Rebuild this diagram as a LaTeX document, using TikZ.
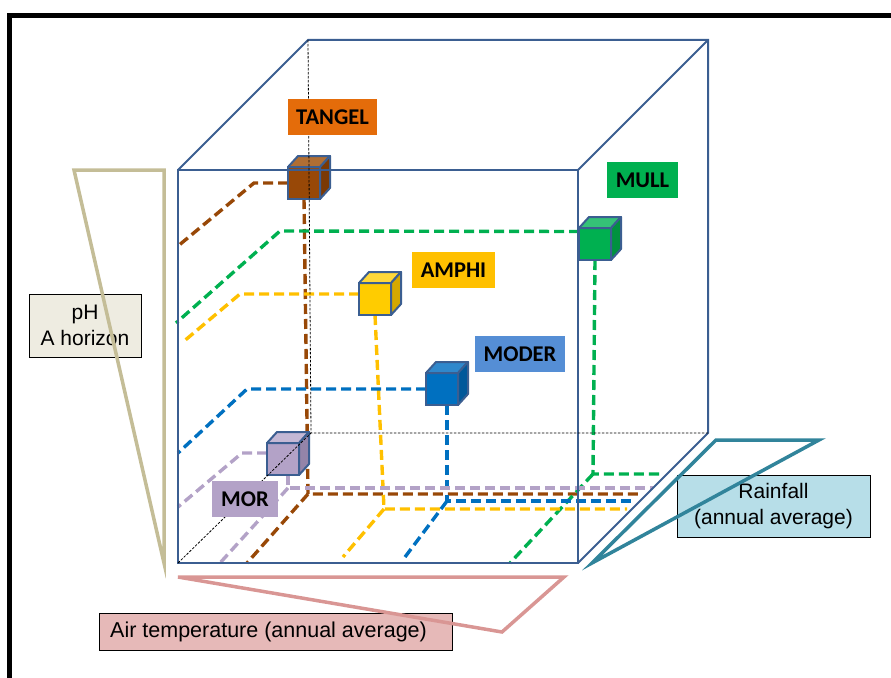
\documentclass[tikz,border=0pt]{standalone}
\usepackage{fontspec}
\setmainfont{Liberation Sans}
\newfontfamily\labfont{Carlito}
\pgfdeclarelayer{bg}
\pgfsetlayers{bg,main}
\definecolor{cubeblue}{HTML}{3B5E91}
\definecolor{brownC}{HTML}{984807}
\definecolor{brownTop}{HTML}{B06E33}
\definecolor{brownSide}{HTML}{7A3905}
\definecolor{orangeL}{HTML}{E46C0A}
\definecolor{greenC}{HTML}{00B050}
\definecolor{greenTop}{HTML}{35C277}
\definecolor{greenSide}{HTML}{00923F}
\definecolor{yellowC}{HTML}{FFC000}
\definecolor{yellowF}{HTML}{FFCC00}
\definecolor{yellowTop}{HTML}{FFD83A}
\definecolor{yellowSide}{HTML}{D4A800}
\definecolor{blueC}{HTML}{0070C0}
\definecolor{blueTop}{HTML}{2F88CC}
\definecolor{blueSide}{HTML}{00589A}
\definecolor{blueL}{HTML}{558ED5}
\definecolor{lavC}{HTML}{B3A2C7}
\definecolor{lavTop}{HTML}{C4B8D5}
\definecolor{lavSide}{HTML}{9484A9}
\definecolor{phLine}{HTML}{C4BD97}
\definecolor{phFill}{HTML}{EEECE1}
\definecolor{tempLine}{HTML}{D99694}
\definecolor{tempFill}{HTML}{E6B9B8}
\definecolor{rainLine}{HTML}{31849B}
\definecolor{rainFill}{HTML}{B7DEE8}
\newcommand\soilcube[5]{%
  \node[cubeface, fill=#3] (#1) at (#2) {};
  \draw[edge, line join=round, fill=#4] (#1.north west) -- ++(10,-11) -- ([shift={(10,-11)}]#1.north east) -- (#1.north east) -- cycle;
  \draw[edge, line join=round, fill=#5] (#1.north east) -- ++(10,-11) -- ([shift={(10,-11)}]#1.south east) -- (#1.south east) -- cycle;
}
\begin{document}
\begin{tikzpicture}[x=1pt,y=-1pt,
  edge/.style={draw=cubeblue, line width=2},
  hidden/.style={black, line width=0.8, dash pattern=on 2.5pt off 1.5pt},
  dline/.style={line width=3.4, dash pattern=on 10pt off 5pt},
  cubeface/.style={draw=cubeblue, line width=2, minimum size=32, inner sep=0, outer sep=0},
  tag/.style={font=\labfont\bfseries\fontsize{22.5}{26}\selectfont, inner sep=0, minimum height=36},
  axisbox/.style={draw=black, line width=0.8, font=\fontsize{21}{26}\selectfont, align=center, inner sep=0},
  tri/.style={line width=3.5, line join=miter}]
\useasboundingbox (0,0) rectangle (891,677);
% outer frame
\draw[line width=5.5, line join=miter] (9.5,720) -- (9.5,15.5) -- (930,15.5);

% box corners
\coordinate (F1) at (178,170); \coordinate (F2) at (578,170);
\coordinate (F3) at (578,563); \coordinate (F4) at (178,563);
\coordinate (B1) at (308,40);  \coordinate (B2) at (708,40);
\coordinate (B3) at (708,433); \coordinate (B4) at (311,433);

% cubes
\soilcube{tangel}{304,183}{brownC}{brownTop}{brownSide}
\soilcube{mull}{595,244}{greenC}{greenTop}{greenSide}
\soilcube{amphi}{375,299}{yellowF}{yellowTop}{yellowSide}
\soilcube{moder}{442,389}{blueC}{blueTop}{blueSide}
\soilcube{mor}{283,459}{lavC}{lavTop}{lavSide}

% dashed projection lines
\begin{pgfonlayer}{bg}
\coordinate (tL) at (254,183); \coordinate (tE) at (178,246);
\coordinate (tF) at (308,494); \coordinate (tR) at (640,494); \coordinate (tB) at (247,563);
\draw[dline, brownC] (tangel.west) -- (tL) -- (tE);
\draw[dline, brownC] (tangel.south) -- (tF) -- (tR);
\draw[dline, brownC] (tF) -- (tB);

\coordinate (gL) at (280,231); \coordinate (gE) at (176,323);
\coordinate (gF) at (593,474); \coordinate (gR) at (660,474); \coordinate (gB) at (510,563);
\draw[dline, greenC] ([yshift=12.5pt]mull.west) -- (gL) -- (gE);
\draw[dline, greenC] (mull.south) -- (gF) -- (gR);
\draw[dline, greenC] (gF) -- (gB);

\coordinate (yL) at (240,294); \coordinate (yE) at (183,342);
\coordinate (yF) at (384,509); \coordinate (yR) at (627,509); \coordinate (yB) at (343,557);
\draw[dline, yellowC] ([yshift=5pt]amphi.west) -- (yL) -- (yE);
\draw[dline, yellowC] (amphi.south) -- (yF) -- (yR);
\draw[dline, yellowC] (yF) -- (yB);

\coordinate (bL) at (247,389); \coordinate (bE) at (178,453);
\coordinate (bF) at (447,501); \coordinate (bR) at (633,501); \coordinate (bB) at (405,557);
\draw[dline, blueC] (moder.west) -- (bL) -- (bE);
\draw[dline, blueC] ([xshift=5pt]moder.south) -- (bF) -- (bR);
\draw[dline, blueC] (bF) -- (bB);

\coordinate (lL) at (242,453); \coordinate (lE) at (178,507);
\coordinate (lF) at (288,488); \coordinate (lR) at (653,488); \coordinate (lB) at (220,563);
\draw[dline, lavC] ([yshift=6pt]mor.west) -- (lL) -- (lE);
\draw[dline, lavC] ([xshift=5pt]mor.south) -- (lF) -- (lR);
\draw[dline, lavC] (lF) -- (lB);
\end{pgfonlayer}

% wireframe
\draw[edge] (F1) rectangle (F3);
\draw[edge, line join=miter] (F1) -- (B1) -- (B2) -- (B3) -- (F3);
\draw[edge] (F2) -- (B2);
\draw[hidden] (B1) -- (B4) -- (B3);
\draw[hidden] (F4) -- (B4);

% labels
\node[tag, fill=orangeL, minimum width=89] (ltangel) at (332.5,117) {TANGEL};
\node[tag, fill=greenC, minimum width=71] (lmull) at (642.5,180) {MULL};
\node[tag, fill=yellowC, minimum width=83] (lamphi) at (453.5,270) {AMPHI};
\node[tag, fill=blueL, minimum width=90] (lmoder) at (520,354) {MODER};
\node[tag, fill=lavC, minimum width=66] (lmor) at (245,499) {MOR};

% axes
\node[axisbox, fill=phFill, minimum width=112, minimum height=63] (ph) at (85,325.5) {pH\\A horizon};
\node[axisbox, fill=tempFill, minimum width=353, minimum height=37] (temp) at (275.5,631.5) {};
\node[anchor=west, inner sep=0, font=\fontsize{21.5}{26}\selectfont] (temptext) at (110,631.5) {Air temperature (annual average)};
\node[axisbox, fill=rainFill, minimum width=193, minimum height=62] (rain) at (773.5,506) {Rainfall\\(annual average)};

\draw[tri, phLine] (74,170) -- (164,170) -- (164,563) -- cycle;
\draw[tri, tempLine] (178,577) -- (564,577) -- (502,632) -- cycle;
\draw[tri, rainLine] (716,440) -- (819,440) -- (592,563) -- cycle;
\end{tikzpicture}
\end{document}
